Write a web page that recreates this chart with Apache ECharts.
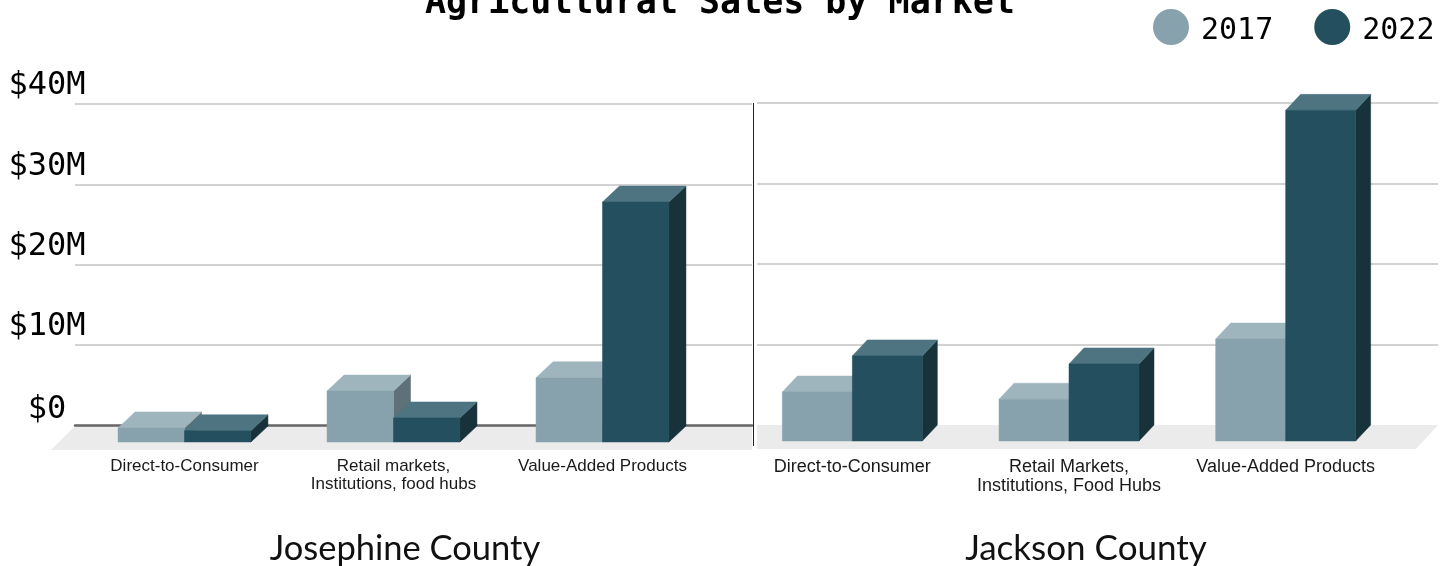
<!DOCTYPE html>
<html>
<head>
<meta charset="utf-8">
<style>html,body{margin:0;padding:0;background:#fff;overflow:hidden}#c{width:1442px;height:566px}</style>
<script src="https://cdn.jsdelivr.net/npm/echarts@6/dist/echarts.min.js"></script>
</head>
<body>
<div id="c"></div>
<script>
const categoriesJosephine = ['Direct-to-Consumer', 'Retail markets,\nInstitutions, food hubs', 'Value-Added Products'];
const categoriesJackson = ['Direct-to-Consumer', 'Retail Markets,\nInstitutions, Food Hubs', 'Value-Added Products'];
const josephine2017 = [1.75, 6.35, 8];
const josephine2022 = [1.4, 3, 29.9];
const jackson2017 = [6.1, 5.2, 12.7];
const jackson2022 = [10.6, 9.6, 41.2];
const yTicks = ['$0', '$10M', '$20M', '$30M', '$40M'];
const seriesNames = ['2017', '2022'];

const shades = {
  '2017': {front: '#87a2ad', top: '#9fb5bd', side: '#5f7178'},
  '2022': {front: '#234f5e', top: '#4d7480', side: '#17323b'}
};
const MONO = '"DejaVu Sans Mono"';

function bar3d(name, slot, ratio, dx, dy) {
  return function (params, api) {
    const i = api.value(0), v = api.value(1);
    const base = api.coord([i, 0]), top = api.coord([i, v]);
    const w = api.size([1, 0])[0] * ratio;
    const x0 = base[0] + (slot === 0 ? -w : 0), x1 = x0 + w;
    const yb = base[1], yt = top[1];
    const c = shades[name];
    const poly = (points, fill) => ({type: 'polygon', shape: {points}, style: {fill, stroke: fill, lineWidth: 0.5}});
    return {type: 'group', children: [
      poly([[x1, yb], [x1 + dx, yb - dy], [x1 + dx, yt - dy], [x1, yt]], c.side),
      poly([[x0, yt], [x1, yt], [x1 + dx, yt - dy], [x0 + dx, yt - dy]], c.top),
      poly([[x0, yb], [x1, yb], [x1, yt], [x0, yt]], c.front)
    ]};
  };
}
function barSeries(name, slot, values, gridAxis, ratio, dx, dy) {
  return {
    type: 'custom', name, xAxisIndex: gridAxis, yAxisIndex: gridAxis, z: 3,
    itemStyle: {color: shades[name].front},
    encode: {x: 0, y: 1},
    data: values.map((v, i) => [i, v]),
    renderItem: bar3d(name, slot, ratio, dx, dy)
  };
}
const gridLine = {show: true, showMinLine: false, lineStyle: {color: '#d2d2d2', width: 2}};
const catLabelLeft = {color: '#1a1a1a', fontFamily: '"Liberation Sans"', fontSize: 17, lineHeight: 18, margin: 15, interval: 0};
const catLabelRight = {color: '#1a1a1a', fontFamily: '"Liberation Sans"', fontSize: 18, lineHeight: 19, margin: 17, interval: 0};
const tickText = {fontFamily: MONO, fontSize: 32, color: '#000'};

const option = {
  animation: false,
  backgroundColor: '#fff',
  title: [
    {text: 'Agricultural Sales by Market', left: 715, top: -19, textAlign: 'center',
      textStyle: {fontFamily: MONO, fontSize: 35, fontWeight: 'bold', color: '#000'}},
    {text: 'Josephine County', left: 400, top: 526, textAlign: 'center',
      textStyle: {fontFamily: 'Lato', fontSize: 34.5, fontWeight: 'normal', color: '#111'}},
    {text: 'Jackson County', left: 1081, top: 526, textAlign: 'center',
      textStyle: {fontFamily: 'Lato', fontSize: 35, fontWeight: 'normal', color: '#111'}}
  ],
  legend: {
    data: seriesNames, left: 1148, top: 4, itemWidth: 36, itemHeight: 36, itemGap: 41, icon: 'circle',
    formatter: name => '{a|' + name + '}',
    textStyle: {rich: {a: {fontFamily: MONO, fontSize: 30, color: '#000', padding: [8, 0, 0, 7]}}}
  },
  grid: [
    {left: 75, top: 104, width: 677, height: 321},
    {left: 80, top: 121, width: 627, height: 321},
    {left: 757, top: 103, width: 681, height: 322},
    {left: 744, top: 120, width: 650, height: 321}
  ],
  xAxis: [
    {gridIndex: 0, type: 'category', data: categoriesJosephine, z: 2, axisLabel: {show: false}, axisTick: {show: false},
      axisLine: {show: true, lineStyle: {color: '#666', width: 2.5}}},
    {gridIndex: 1, type: 'category', data: categoriesJosephine, axisLabel: catLabelLeft, axisTick: {show: false}, axisLine: {show: false}},
    {gridIndex: 2, type: 'category', data: categoriesJackson, axisLabel: {show: false}, axisTick: {show: false}, axisLine: {show: false}},
    {gridIndex: 3, type: 'category', data: categoriesJackson, axisLabel: catLabelRight, axisTick: {show: false}, axisLine: {show: false}}
  ],
  yAxis: [
    {gridIndex: 0, type: 'value', min: 0, max: 40, interval: 10, z: 0, splitLine: gridLine, axisLine: {show: false}, axisTick: {show: false},
      axisLabel: {formatter: v => (v === 0 ? '{z|' : '{n|') + yTicks[v / 10] + '}', align: 'center', verticalAlign: 'bottom', margin: 28,
        rich: {n: {...tickText, lineHeight: 36}, z: {...tickText, lineHeight: 30}}}},
    {gridIndex: 1, type: 'value', min: 0, max: 40, show: false},
    {gridIndex: 2, type: 'value', min: 0, max: 40, interval: 10, z: 0, splitLine: gridLine, axisLine: {show: false}, axisTick: {show: false}, axisLabel: {show: false}},
    {gridIndex: 3, type: 'value', min: 0, max: 40, show: false}
  ],
  graphic: [
    {type: 'polygon', z: 1, shape: {points: [[75, 426], [752, 426], [752, 450], [51, 450]]}, style: {fill: '#ebebeb'}},
    {type: 'polygon', z: 1, shape: {points: [[757, 425], [1438, 425], [1416, 449], [757, 449]]}, style: {fill: '#ebebeb'}},
    {type: 'line', z: 4, shape: {x1: 753.5, y1: 103, x2: 753.5, y2: 446}, style: {stroke: '#222', lineWidth: 1}}
  ],
  series: [
    barSeries('2017', 0, josephine2017, 1, 0.318, 17, 16),
    barSeries('2022', 1, josephine2022, 1, 0.318, 17, 16),
    barSeries('2017', 0, jackson2017, 3, 0.323, 15, 16),
    barSeries('2022', 1, jackson2022, 3, 0.323, 15, 16)
  ]
};
echarts.init(document.getElementById('c'), null, {renderer: 'canvas'}).setOption(option);
</script>
</body>
</html>
